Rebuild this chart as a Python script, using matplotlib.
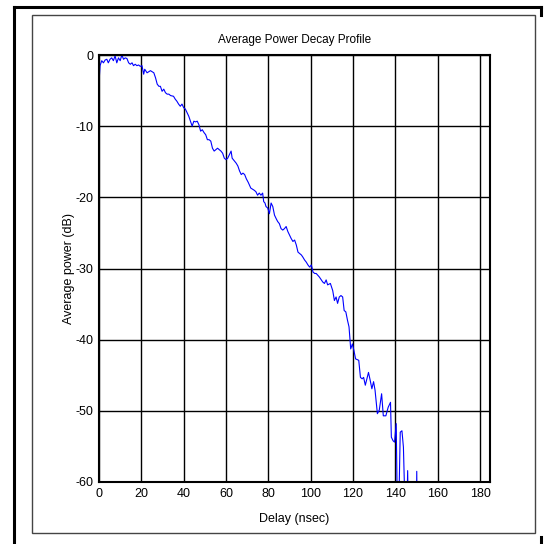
import matplotlib
matplotlib.use("Agg")
import matplotlib.pyplot as plt
from matplotlib.lines import Line2D
from matplotlib.patches import Rectangle

plt.rcParams['font.family'] = ['Liberation Sans', 'DejaVu Sans']
plt.rcParams['axes.unicode_minus'] = False

# delay (nsec) and average power (dB)
delay = [0.0, 0.5, 1.3, 2.1, 2.9, 3.7, 4.4, 5.2, 6.0, 6.8, 7.6, 8.4, 9.2, 10.0, 10.8,
         11.6, 12.4, 13.2, 14.0, 14.8, 15.6, 16.3, 17.1, 17.9, 18.7, 19.5, 20.3, 21.1,
         21.6, 22.7, 24.3, 25.9, 26.7, 27.5, 28.3, 29.0, 29.8, 30.6, 31.4, 32.2, 33.0,
         33.8, 35.2, 36.0, 36.8, 37.6, 38.4, 39.2, 40.0, 40.8, 41.6, 42.4, 43.2, 44.0,
         44.8, 45.6, 46.4, 47.2, 48.0, 48.8, 49.6, 50.4, 51.2, 52.0, 52.8, 53.6, 54.4,
         55.2, 56.0, 56.8, 57.6, 58.4, 59.2, 60.0, 60.8, 61.6, 62.4, 62.9, 64.0, 64.8,
         65.6, 66.4, 67.2, 68.0, 68.8, 69.6, 70.5, 71.7, 73.3, 74.1, 74.9, 75.7, 76.5,
         77.3, 77.8, 78.4, 78.9, 79.7, 80.5, 81.3, 82.1, 82.9, 83.7, 84.4, 85.2, 86.0,
         86.8, 87.6, 88.4, 89.2, 90.0, 90.8, 91.6, 92.4, 93.2, 94.0, 94.8, 95.6, 96.3,
         97.1, 97.9, 98.7, 99.5, 100.3, 101.1, 101.9, 102.6, 104.1, 105.7, 106.5, 107.3,
         108.0, 109.3, 110.4, 111.2, 112.0, 112.7, 113.5, 114.3, 115.1, 115.8, 116.6,
         117.4, 118.1, 118.6, 118.9, 119.7, 120.4, 121.2, 122.7, 123.5, 124.3, 125.0,
         125.8, 127.3, 128.1, 128.9, 129.7, 130.4, 131.5, 132.4, 133.5, 134.3, 135.5,
         136.6, 137.7, 138.1, 138.9, 139.6, 140.4, 141.2, 142.3, 143.1, 143.8, 145.1,
         145.8, 146.4, 149.8, 150.1, 150.4]
power = [-3.9, -1.5, -0.8, -1.1, -0.7, -0.6, -1.1, -0.6, -0.4, -0.8, -0.1, -1.1, -0.4,
         -0.8, 0.0, -0.6, -0.4, -0.5, -1.1, -1.3, -1.1, -1.5, -1.3, -1.5, -1.4, -1.6,
         -1.5, -2.7, -2.0, -2.5, -2.2, -2.5, -3.2, -4.1, -4.4, -4.4, -5.1, -4.8, -5.3,
         -5.5, -5.5, -5.7, -5.8, -6.2, -6.5, -6.9, -7.2, -6.9, -7.4, -7.6, -8.1, -8.6,
         -9.3, -10.0, -9.3, -9.4, -9.3, -9.8, -10.7, -10.5, -10.9, -11.2, -11.9, -11.9,
         -12.1, -13.1, -13.5, -13.3, -13.1, -13.3, -13.5, -13.8, -14.5, -14.7, -14.5,
         -14.0, -13.5, -14.5, -14.9, -15.2, -15.6, -16.3, -16.8, -16.6, -16.8, -17.4,
         -17.9, -18.7, -19.0, -19.2, -19.7, -19.4, -19.7, -19.4, -20.6, -20.8, -21.3,
         -21.5, -22.3, -20.8, -21.3, -22.5, -23.0, -23.4, -23.7, -24.4, -24.6, -24.4,
         -24.1, -24.8, -25.3, -25.8, -26.2, -26.0, -26.7, -27.7, -27.9, -28.1, -28.4,
         -28.8, -29.1, -29.5, -29.8, -29.5, -30.5, -30.7, -30.7, -31.2, -31.9, -32.1,
         -31.6, -32.3, -32.1, -33.1, -34.5, -34.0, -34.9, -34.0, -33.8, -34.0, -35.9,
         -36.1, -37.3, -38.2, -40.1, -41.3, -40.6, -41.5, -42.7, -42.9, -45.3, -45.5,
         -45.3, -46.4, -44.6, -45.7, -46.9, -45.9, -47.1, -50.4, -49.9, -47.6, -50.7,
         -50.7, -49.5, -48.8, -53.7, -54.2, -54.4, -51.8, -70.0, -53.0, -52.8, -55.1,
         -70.0, -58.4, -70.0, -70.0, -58.5, -70.0]

xticks = [0, 20, 40, 60, 80, 100, 120, 140, 160, 180]
yticks = [0, -10, -20, -30, -40, -50, -60]

fig = plt.figure(figsize=(5.44, 5.44), dpi=100)
ax = fig.add_axes([99/544, 1 - 482/544, 391/544, 427/544])

ax.plot(delay, power, color='#0000ff', lw=0.8)

ax.set_xlim(0, 184.7)
ax.set_ylim(-60, 0)
ax.set_xticks(xticks)
ax.set_yticks(yticks)
ax.tick_params(length=0, labelsize=9, pad=4)
ax.grid(True, color='black', lw=1.0, ls='-')
for s in ax.spines.values():
    s.set_linewidth(1.5)

ax.set_title('Average Power Decay Profile', fontsize=8.5, pad=9)
ax.set_xlabel('Delay (nsec)', fontsize=9, labelpad=10)
ax.set_ylabel('Average power (dB)', fontsize=9, labelpad=0)

# frames around the figure
W = 544.0
fig.add_artist(Rectangle((32/W, 1 - 533/W), 503/W, 518/W, transform=fig.transFigure,
                         fill=False, edgecolor='#444444', lw=1.0))
fig.add_artist(Line2D([14/W, 541/W], [1 - 7/W, 1 - 7/W], transform=fig.transFigure,
                      color='black', lw=2.2))
fig.add_artist(Line2D([14/W, 14/W], [1 - 7/W, 0], transform=fig.transFigure,
                      color='black', lw=2.2))
fig.add_artist(Line2D([541/W, 541/W], [1 - 7/W, 1 - 15/W], transform=fig.transFigure,
                      color='black', lw=2.2))
fig.add_artist(Line2D([541/W, 541/W], [1 - 537/W, 0], transform=fig.transFigure,
                      color='black', lw=2.2))

fig.savefig('out.png', dpi=100)
